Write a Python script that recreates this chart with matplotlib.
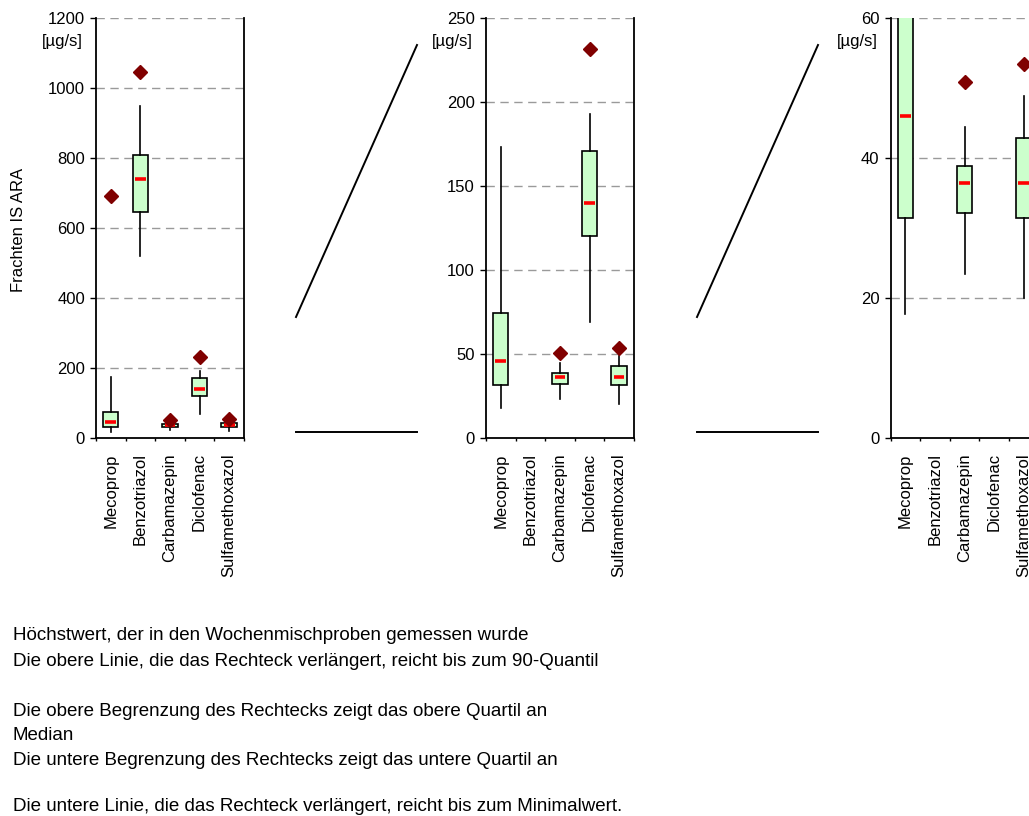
import matplotlib.pyplot as plt
from matplotlib.lines import Line2D

plt.rcParams['font.family'] = ['Liberation Sans', 'DejaVu Sans']

substances = ["Mecoprop", "Benzotriazol", "Carbamazepin", "Diclofenac", "Sulfamethoxazol"]
maximum = [691, 1047, 50.8, 231.7, 53.4]      # highest weekly value
p90 = [173.4, 948.6, 44.5, 192.7, 48.8]
q3 = [74.2, 808.6, 38.9, 171.0, 42.9]
median = [46.0, 739.0, 36.5, 139.7, 36.5]
q1 = [31.4, 646.6, 32.1, 120.2, 31.4]
minimum = [17.7, 520.0, 23.4, 69.2, 20.0]

# y range and grid step of the three panels (full view, then two zooms)
y_top = [1200, 250, 60]
y_step = [200, 50, 20]
panel_left = [0.0933, 0.4723, 0.8655]

legend_lines = [
    "Höchstwert, der in den Wochenmischproben gemessen wurde",
    "Die obere Linie, die das Rechteck verlängert, reicht bis zum 90-Quantil",
    "Die obere Begrenzung des Rechtecks zeigt das obere Quartil an",
    "Median",
    "Die untere Begrenzung des Rechtecks zeigt das untere Quartil an",
    "Die untere Linie, die das Rechteck verlängert, reicht bis zum Minimalwert.",
]
legend_y = [640, 666, 716, 740, 765, 811]

pos = [1, 2, 3, 4, 5]
stats = [dict(whislo=minimum[i], q1=q1[i], med=median[i], q3=q3[i], whishi=p90[i])
         for i in range(5)]

fig = plt.figure(figsize=(10.29, 8.16), dpi=100)

for n in range(3):
    ax = fig.add_axes([panel_left[n], 0.4632, 0.1438, 0.5147])
    ticks = list(range(0, y_top[n] + 1, y_step[n]))
    for y in ticks[1:]:
        ax.axhline(y, color="#9a9a9a", lw=1, ls=(0, (6, 4)), zorder=0)

    ax.bxp(stats, positions=pos, widths=0.52, patch_artist=True,
           showcaps=False, showfliers=False,
           boxprops=dict(facecolor="#ccffcc", edgecolor="black", linewidth=1.2),
           whiskerprops=dict(color="black", linewidth=1.2),
           medianprops=dict(linewidth=0))
    ax.hlines(median, [p - 0.18 for p in pos], [p + 0.18 for p in pos],
              color="red", lw=2.6, zorder=5)
    ax.plot(pos, maximum, "D", color="#800000", ms=7, zorder=5)

    ax.set_xlim(0.5, 5.5)
    ax.set_ylim(0, y_top[n])
    ax.set_yticks(ticks)
    ax.set_xticks(pos, substances, rotation=90, fontsize=12)
    ax.set_xticks([p + 0.5 for p in range(6)], minor=True)
    ax.tick_params(axis="x", which="major", length=0, pad=11)
    ax.tick_params(axis="x", which="minor", length=2.5, width=1, direction="out")
    ax.tick_params(axis="y", labelsize=12, length=4, width=1, pad=4)
    ax.spines["top"].set_visible(False)
    for s in ["left", "bottom", "right"]:
        ax.spines[s].set_linewidth(1.3)
    ax.text(-0.088, 0.943, "[µg/s]", transform=ax.transAxes,
            ha="right", va="center", fontsize=12)
    if n == 0:
        ax.set_ylabel("Frachten IS ARA", fontsize=12)
        ax.yaxis.set_label_coords(-0.47, 0.495)

# zoom connector strokes between the panels (pixel positions)
W, H = 1029, 816
for x0 in [296, 697]:
    for (xa, ya), (xb, yb) in [((x0, 317), (x0 + 121, 45)), ((x0, 432), (x0 + 121, 432))]:
        fig.add_artist(Line2D([xa / W, xb / W], [1 - ya / H, 1 - yb / H],
                              color="black", lw=1.4, transform=fig.transFigure))

for text, y in zip(legend_lines, legend_y):
    fig.text(13 / W, 1 - y / H, text, fontsize=13.5, va="baseline", ha="left")

plt.savefig("out.png", dpi=100)
